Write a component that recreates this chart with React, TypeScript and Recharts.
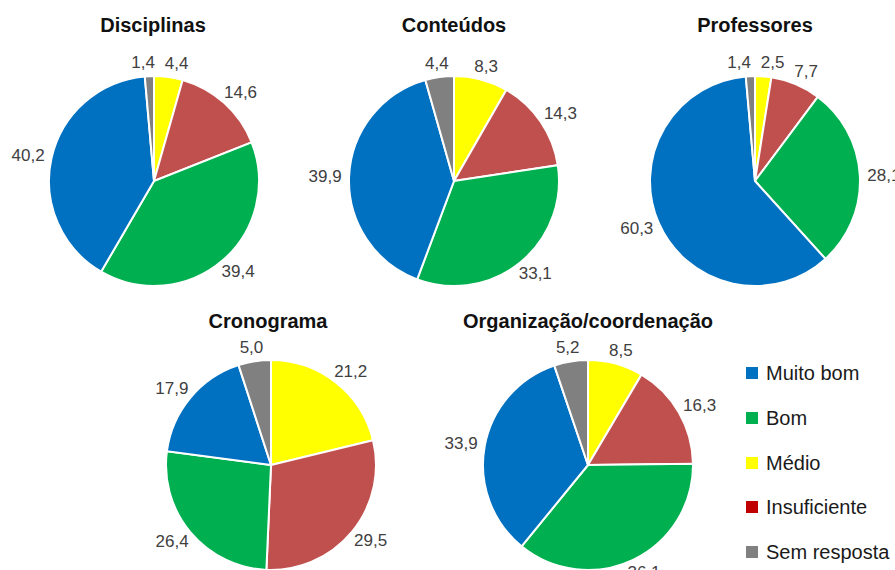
import React from 'react';
import { PieChart, Pie, Cell } from 'recharts';

// Slice order (clockwise from 12 o'clock)
const categories = ['Médio', 'Insuficiente', 'Bom', 'Muito bom', 'Sem resposta'];
const pieColors = ['#FFFF00', '#C0504D', '#00B050', '#0070C0', '#808080'];

const disciplinas = [4.4, 14.6, 39.4, 40.2, 1.4];
const conteudos = [8.3, 14.3, 33.1, 39.9, 4.4];
const professores = [2.5, 7.7, 28.1, 60.3, 1.4];
const cronograma = [21.2, 29.5, 26.4, 17.9, 5.0];
const organizacao = [8.5, 16.3, 36.1, 33.9, 5.2];

const titles = ['Disciplinas', 'Conteúdos', 'Professores', 'Cronograma', 'Organização/coordenação'];
const seriesList = [disciplinas, conteudos, professores, cronograma, organizacao];

const legendLabels = ['Muito bom', 'Bom', 'Médio', 'Insuficiente', 'Sem resposta'];
const legendColors = ['#0070C0', '#00B050', '#FFFF00', '#C00000', '#808080'];

// layout (pixel centres of each pie and its title)
const layout = [
  { cx: 154, cy: 181, tx: 153, ty: 25 },
  { cx: 454, cy: 181, tx: 454, ty: 25 },
  { cx: 755, cy: 181, tx: 755, ty: 25 },
  { cx: 271, cy: 465, tx: 268, ty: 321 },
  { cx: 588, cy: 465, tx: 588, ty: 321 },
];

const FONT = '"Liberation Sans", Arial, sans-serif';
const RAD = Math.PI / 180;
const BOX = 320;
const R = 105;
const LABEL_FS = 17;
const CHAR_W = 8.5;
const LABEL_H = 14;
const GAP = 8;

const fmt = (v: number) => v.toFixed(1).replace('.', ',');

// Compute label offsets (relative to pie centre), then push overlapping neighbours apart.
function labelOffsets(vals: number[]) {
  const total = vals.reduce((a, b) => a + b, 0);
  let cum = 0;
  const pts = vals.map((v) => {
    const a = ((cum + v / 2) / total) * 360; // clockwise from top
    cum += v;
    const th = (90 - a) * RAD;
    const c = Math.cos(th);
    const s = Math.sin(th);
    const w = fmt(v).length * CHAR_W;
    const d = R + 7;
    return { x: d * c + c * (w / 2), y: -d * s - s * (LABEL_H / 2), w };
  });
  const n = pts.length;
  for (let iter = 0; iter < 10; iter++) {
    for (let k = 0; k < n; k++) {
      const p = pts[k];
      const q = pts[(k + 1) % n];
      const need = (p.w + q.w) / 2 + GAP;
      const dx = Math.abs(p.x - q.x);
      const dy = Math.abs(p.y - q.y);
      if (dx < need && dy < LABEL_H) {
        const push = (need - dx) / 2;
        if (p.x <= q.x) {
          p.x -= push;
          q.x += push;
        } else {
          p.x += push;
          q.x -= push;
        }
      }
    }
  }
  return pts;
}

const makeLabel = (vals: number[]) => {
  const offs = labelOffsets(vals);
  return (props: any) => {
    const { cx, cy, index, value } = props;
    const o = offs[index];
    return (
      <text
        x={cx + o.x}
        y={cy + o.y}
        fill="#404040"
        fontSize={LABEL_FS}
        fontFamily={FONT}
        textAnchor="middle"
        dominantBaseline="central"
      >
        {fmt(value)}
      </text>
    );
  };
};

export default function App() {
  return (
    <div
      style={{
        position: 'absolute',
        left: 0,
        top: 0,
        width: 895,
        height: 570,
        overflow: 'hidden',
        background: '#ffffff',
        fontFamily: FONT,
      }}
    >
      {seriesList.map((vals, i) => {
        const data = categories.map((name, k) => ({ name, value: vals[k] }));
        const L = layout[i];
        return (
          <div
            key={'pie' + i}
            style={{ position: 'absolute', left: L.cx - BOX / 2, top: L.cy - BOX / 2, width: BOX, height: BOX }}
          >
            <PieChart width={BOX} height={BOX} margin={{ top: 0, right: 0, bottom: 0, left: 0 }}>
              <Pie
                data={data}
                dataKey="value"
                nameKey="name"
                cx={BOX / 2}
                cy={BOX / 2}
                outerRadius={R}
                startAngle={90}
                endAngle={-270}
                stroke="#ffffff"
                strokeWidth={2}
                label={makeLabel(vals)}
                labelLine={false}
                isAnimationActive={false}
              >
                {data.map((d, k) => (
                  <Cell key={k} fill={pieColors[k]} />
                ))}
              </Pie>
            </PieChart>
          </div>
        );
      })}
      {titles.map((t, i) => (
        <div
          key={'t' + i}
          style={{
            position: 'absolute',
            left: layout[i].tx,
            top: layout[i].ty,
            transform: 'translate(-50%, -50%)',
            fontSize: 20,
            fontWeight: 'bold',
            color: '#111111',
            whiteSpace: 'nowrap',
            lineHeight: 1,
          }}
        >
          {t}
        </div>
      ))}
      {legendLabels.map((lab, i) => (
        <div
          key={'l' + i}
          style={{
            position: 'absolute',
            left: 746,
            top: 373 + i * 44.8,
            transform: 'translateY(-50%)',
            display: 'flex',
            alignItems: 'center',
            whiteSpace: 'nowrap',
          }}
        >
          <div style={{ width: 12, height: 12, background: legendColors[i], marginRight: 8 }} />
          <span style={{ fontSize: 20, color: '#1a1a1a', lineHeight: 1 }}>{lab}</span>
        </div>
      ))}
    </div>
  );
}
